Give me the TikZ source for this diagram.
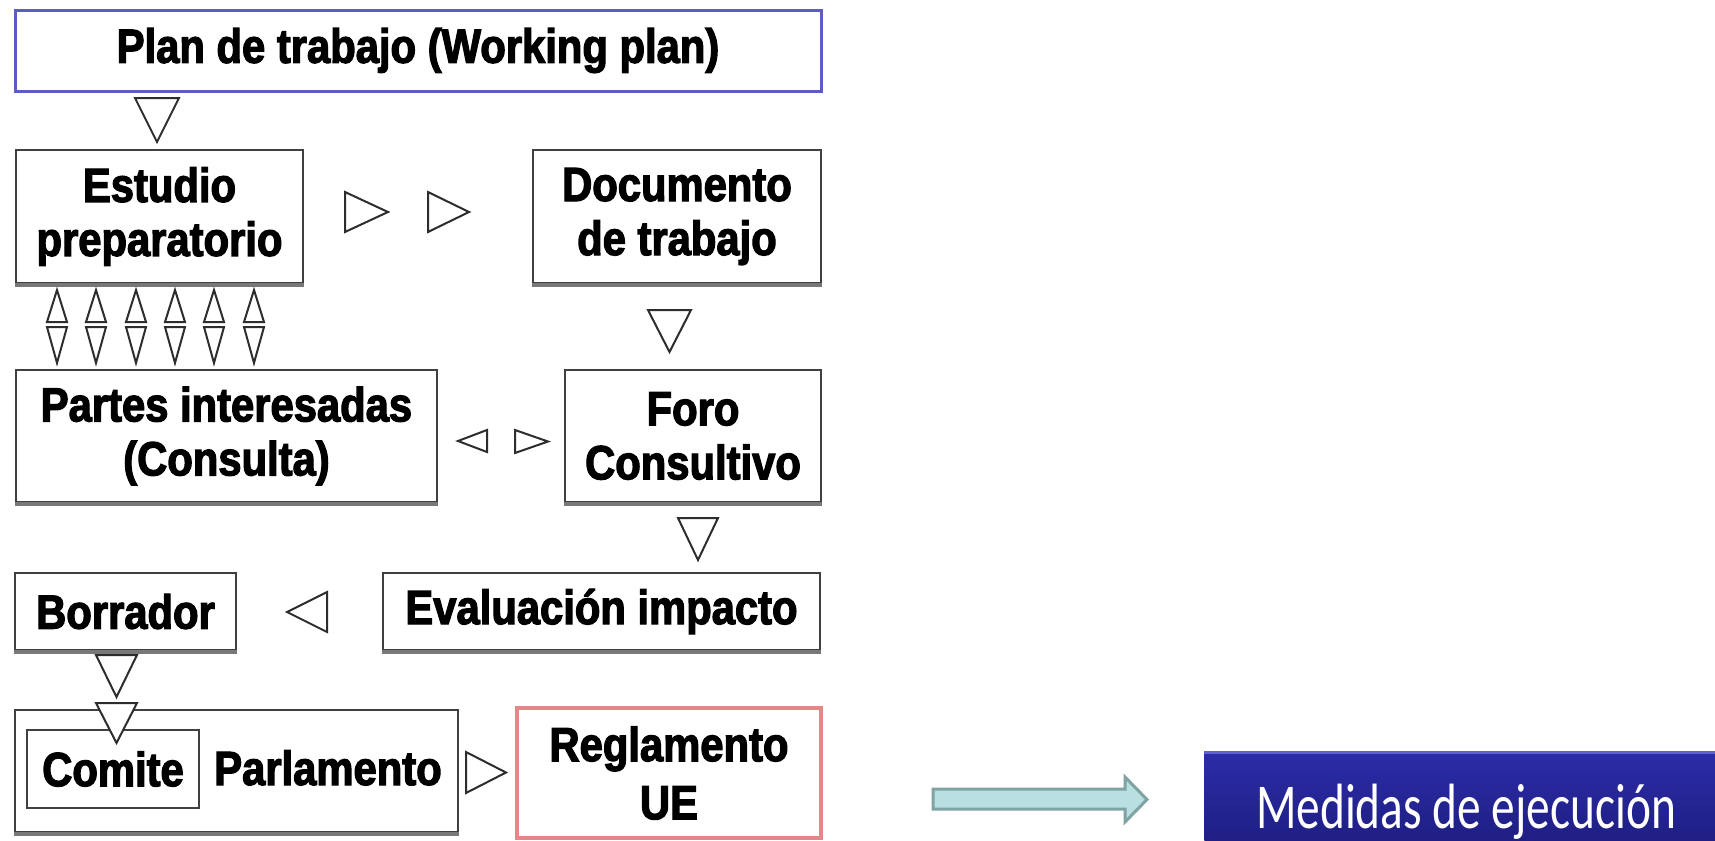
\documentclass[tikz,border=0pt]{standalone}
\usepackage{fontspec}
\newfontfamily\boxfont[UprightFont={* Bold},FakeBold=2.5,FakeStretch=0.87]{Liberation Sans}
\newfontfamily\medfont[FakeStretch=0.74]{Carlito}
\definecolor{planblue}{RGB}{92,92,196}
\definecolor{boxgray}{RGB}{64,64,64}
\definecolor{shadowgray}{RGB}{120,120,120}
\definecolor{trigray}{RGB}{45,45,45}
\definecolor{regred}{RGB}{226,136,136}
\definecolor{arrfill}{RGB}{185,223,224}
\definecolor{arrdraw}{RGB}{128,163,163}
\definecolor{medtop}{RGB}{44,44,168}
\definecolor{medbot}{RGB}{30,30,130}
\definecolor{medhi}{RGB}{96,96,208}
\tikzset{
  stagebox/.style={draw=boxgray, line width=1.1pt, fill=white, inner sep=0pt, align=center,
    font=\boxfont\fontsize{24}{27}\selectfont},
  lbl/.style={inner sep=0pt, font=\boxfont\fontsize{24}{27}\selectfont},
  tri/.style={draw=trigray, fill=white, line width=1pt, line join=miter},
  shadowline/.style={draw=shadowgray, line width=2pt}
}
\newcommand\dtri[4]{\draw[tri] (#1,#3) -- (#2,#3) -- ({(#1+#2)/2},#4) -- cycle;}
\newcommand\utri[4]{\draw[tri] (#1,#4) -- (#2,#4) -- ({(#1+#2)/2},#3) -- cycle;}
\newcommand\rtri[4]{\draw[tri] (#1,#3) -- (#2,{(#3+#4)/2}) -- (#1,#4) -- cycle;}
\newcommand\ltri[4]{\draw[tri] (#2,#3) -- (#1,{(#3+#4)/2}) -- (#2,#4) -- cycle;}
\begin{document}
\begin{tikzpicture}[x=0.5pt,y=-0.5pt]
\useasboundingbox[fill=white] (0,0) rectangle (1715,841);

% boxes
\node[stagebox, draw=planblue, line width=1.5pt, minimum width=403pt, minimum height=40.5pt] (plan) at (418,50.5) {Plan de trabajo (Working plan)};
\node[stagebox, minimum width=143.5pt, minimum height=66.5pt] (estudio) at (159.5,216.5) {Estudio\\preparatorio};
\node[stagebox, minimum width=144pt, minimum height=66.5pt] (documento) at (677,216.5) {Documento\\de trabajo};
\node[stagebox, minimum width=210.5pt, minimum height=66pt] (partes) at (226.5,436) {Partes interesadas\\(Consulta)};
\node[stagebox, minimum width=128pt, minimum height=66pt] (foro) at (693,436) {Foro\\Consultivo};
\node[stagebox, minimum width=110.5pt, minimum height=38.5pt] (borrador) at (125.5,611.5) {Borrador};
\node[stagebox, minimum width=218.5pt, minimum height=38.5pt] (evaluacion) at (601.5,611.5) {Evaluación impacto};
\node[stagebox, minimum width=221.5pt, minimum height=61pt] (parlamento) at (236.5,771) {};
\node[stagebox, minimum width=86pt, minimum height=39pt] (comite) at (113,769) {Comite};
\node[lbl, anchor=base] (parltext) at (328,785) {Parlamento};
\node[stagebox, draw=regred, line width=2pt, minimum width=152pt, minimum height=65pt, font=\boxfont\fontsize{24}{29}\selectfont] (reglamento) at (669,773) {Reglamento\\UE};

% bottom shadows
\foreach \n in {estudio,documento,partes,foro,borrador,evaluacion,parlamento}
  \draw[shadowline] ([yshift=-0.6pt]\n.south west) -- ([yshift=-0.6pt]\n.south east);

% triangles
\dtri{135}{179}{98}{142}
\rtri{345}{388}{192}{232}
\rtri{428}{469}{192}{232}
\dtri{648}{691}{310}{352}
\ltri{458}{487}{430}{452}
\rtri{515}{548}{430}{453}
\dtri{678}{718}{518}{560}
\ltri{287}{327}{592}{632}
\dtri{96}{137}{655}{697}
\dtri{96}{137}{703}{743}
\rtri{466}{506}{752}{793}
\foreach \c in {57,96,136,175,214,254}{
  \utri{\c-10}{\c+10}{290}{322}
  \dtri{\c-10}{\c+10}{327}{363}
}

% block arrow
\draw[draw=arrdraw, fill=arrfill, line width=1.5pt, line join=miter]
  (933,789) -- (1125,789) -- (1125,777) -- (1147,799.5) -- (1125,822) -- (1125,809) -- (933,809) -- cycle;

% Medidas box
\node[inner sep=0pt, minimum width=255.5pt, minimum height=46pt, anchor=north west,
  top color=medtop, bottom color=medbot, draw=none] (medidas) at (1204,752) {};
\draw[medhi, line width=1.5pt] (medidas.north west) -- (medidas.north east);
\node[inner sep=0pt, anchor=base, text=white, font=\medfont\fontsize{32}{36}\selectfont] (medtext) at (1466,828) {Medidas de ejecución};
\end{tikzpicture}
\end{document}
